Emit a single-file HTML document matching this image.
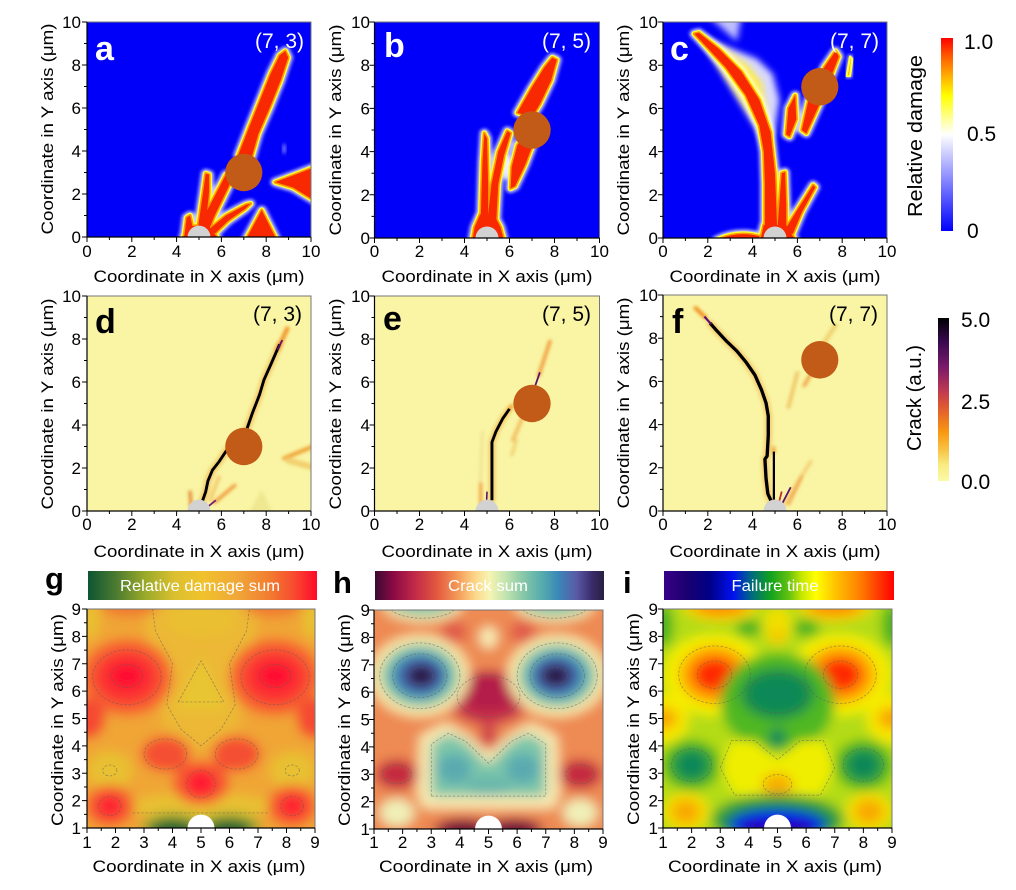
<!DOCTYPE html>
<html><head><meta charset="utf-8"><style>
html,body{margin:0;padding:0;background:#fff}
svg{display:block}
.t{font-family:"Liberation Sans",Arial,sans-serif;font-size:17px;fill:#000}
.m{text-anchor:middle}.e{text-anchor:end}
.h0{fill:#fff;stroke:#fff;stroke-width:.42;stroke-linejoin:round;opacity:.8}
.h1{fill:#ffff30;stroke:#ffff30;stroke-width:.26;stroke-linejoin:round}
.h2{fill:#ff9a00;stroke:#ff9a00;stroke-width:.14;stroke-linejoin:round}
.h3{fill:#f82800;stroke:none}
.ct{fill:none;stroke:#5a5a5a;stroke-width:.025;stroke-dasharray:.09 .06;opacity:.6}
</style></head><body>
<svg width="1016" height="890" viewBox="0 0 1016 890" xmlns="http://www.w3.org/2000/svg">
<defs>
<clipPath id="c10"><rect x="0" y="0" width="10" height="10"/></clipPath>
<clipPath id="c19"><rect x="1" y="1" width="8" height="8"/></clipPath>
<filter id="bl1" x="-20%" y="-20%" width="140%" height="140%"><feGaussianBlur stdDeviation="0.08"/></filter>
<filter id="bl3" x="-20%" y="-20%" width="140%" height="140%"><feGaussianBlur stdDeviation="0.15"/></filter>
<filter id="bl2" x="-5%" y="-5%" width="110%" height="110%"><feGaussianBlur stdDeviation="0.2"/></filter>
<linearGradient id="cbA" x1="0" y1="1" x2="0" y2="0">
<stop offset="0" stop-color="#0000ff"/><stop offset="0.5" stop-color="#ffffff"/><stop offset="0.6" stop-color="#ffff80"/><stop offset="0.7" stop-color="#ffff00"/><stop offset="0.8" stop-color="#ffb000"/><stop offset="0.9" stop-color="#ff6000"/><stop offset="1" stop-color="#ff0000"/></linearGradient>
<linearGradient id="cbB" x1="0" y1="1" x2="0" y2="0">
<stop offset="0" stop-color="#fafaa8"/><stop offset="0.1" stop-color="#f8eb80"/><stop offset="0.2" stop-color="#f8c040"/><stop offset="0.3" stop-color="#f89810"/><stop offset="0.45" stop-color="#e05a30"/><stop offset="0.55" stop-color="#c03a50"/><stop offset="0.7" stop-color="#7a1a6a"/><stop offset="0.85" stop-color="#3a0a50"/><stop offset="1" stop-color="#000004"/></linearGradient>
<linearGradient id="gg"><stop offset="0" stop-color="#0d5532"/><stop offset="0.12" stop-color="#4a7a30"/><stop offset="0.25" stop-color="#9aaa2a"/><stop offset="0.38" stop-color="#dcc030"/><stop offset="0.5" stop-color="#f0c22c"/><stop offset="0.65" stop-color="#f0a838"/><stop offset="0.8" stop-color="#f27a30"/><stop offset="0.9" stop-color="#f84a30"/><stop offset="1" stop-color="#ff0a2a"/></linearGradient>
<linearGradient id="gh"><stop offset="0" stop-color="#3a0a30"/><stop offset="0.08" stop-color="#8a0a44"/><stop offset="0.17" stop-color="#c02848"/><stop offset="0.27" stop-color="#e2583e"/><stop offset="0.36" stop-color="#f49a58"/><stop offset="0.44" stop-color="#fcd88a"/><stop offset="0.5" stop-color="#f6f4b2"/><stop offset="0.57" stop-color="#c4e4b0"/><stop offset="0.64" stop-color="#8ccaa8"/><stop offset="0.72" stop-color="#5ab0ac"/><stop offset="0.8" stop-color="#3a88b8"/><stop offset="0.88" stop-color="#5a5aa6"/><stop offset="0.95" stop-color="#3a2a68"/><stop offset="1" stop-color="#282040"/></linearGradient>
<linearGradient id="gi"><stop offset="0" stop-color="#3a0088"/><stop offset="0.1" stop-color="#1a0070"/><stop offset="0.2" stop-color="#000088"/><stop offset="0.3" stop-color="#0010f0"/><stop offset="0.38" stop-color="#006a80"/><stop offset="0.46" stop-color="#10a020"/><stop offset="0.54" stop-color="#60c010"/><stop offset="0.6" stop-color="#c8e800"/><stop offset="0.66" stop-color="#ffff00"/><stop offset="0.75" stop-color="#ffc000"/><stop offset="0.85" stop-color="#ff8000"/><stop offset="1" stop-color="#ff0000"/></linearGradient>

<g id="ca">
<path d="M6.75,3.8 L7.2,5 L7.7,6.3 L8.2,7.6 L8.6,8.45 L8.85,8.65 L8.98,8.35 L8.65,7.3 L8.15,6.0 L7.65,4.8 L7.35,3.7 Z"/>
<path d="M4.8,0.2 L5.5,1.5 L6.2,2.9 L6.45,2.95 L6.35,2.4 L5.7,1.0 L5.35,0.1 Z"/>
<path d="M4.95,0.4 L5.2,2.2 L5.3,2.95 L5.45,2.9 L5.45,2.1 L5.3,0.6 Z"/>
<path d="M5.5,0.4 L6.2,1.0 L7.1,1.5 L7.3,1.55 L7.05,1.3 L6.3,0.75 L5.7,0.15 Z"/>
<path d="M4.35,0.1 L4.45,0.9 L4.6,1.0 L4.75,0.3 Z"/>
<path d="M4.3,0 L4.6,0.5 L5.4,0.55 L5.8,0 Z"/>
<path d="M7.05,-0.2 L7.8,1.25 L8.5,-0.2 Z"/>
<path d="M8.4,2.55 L9.3,2.9 L10.3,3.3 L10.3,1.6 L9.2,2.3 Z"/>
</g>
<g id="cb">
<path d="M6.35,5.8 L6.95,6.9 L7.55,7.9 L7.9,8.35 L8.1,8.25 L7.85,7.3 L7.35,6.2 L7.0,5.6 Z"/>
<path d="M6.05,2.3 L6.1,3.3 L6.35,4.3 L6.8,4.9 L7.1,4.5 L6.7,3.4 L6.25,2.4 Z"/>
<path d="M5.0,0.6 L5.2,2.5 L5.5,4.0 L5.9,4.95 L6.05,4.85 L5.75,3.8 L5.5,2.5 L5.4,0.6 Z"/>
<path d="M4.72,0.8 L4.8,3.5 L4.88,4.85 L5.0,4.6 L5.05,2.5 L5.05,0.8 Z"/>
<path d="M4.35,-0.1 L4.45,0.5 L4.7,1.1 L5.3,1.1 L5.6,0.5 L5.75,-0.1 Z"/>
</g>
<g id="cc">
<path d="M4.55,0.3 L4.55,2.5 L4.5,4.0 L4.3,5.2 L3.7,6.6 L2.8,7.9 L1.9,8.9 L1.4,9.45 L1.6,9.5 L2.5,8.75 L3.5,7.7 L4.3,6.4 L4.8,4.9 L5.0,3.0 L5.1,0.3 Z"/>
<path d="M5.1,0.3 L5.3,3.0 L5.45,3.05 L5.5,1.5 L5.5,0.3 Z"/>
<path d="M5.4,0.3 L6.0,1.3 L6.7,2.45 L6.8,2.35 L6.2,1.2 L5.7,0.2 Z"/>
<path d="M5.5,0.2 L5.9,1.0 L6.15,1.5 L6.2,1.2 L5.8,0.2 Z"/>
<path d="M4.35,-0.1 L4.5,0.6 L5.5,0.6 L5.9,-0.1 Z"/>
<path d="M2.4,-0.1 Q3.3,0.35 4.3,0.08 L4.3,-0.1 Z"/>
<path d="M5.5,4.8 L5.6,6.0 L5.9,6.6 L5.95,5.5 L5.65,4.7 Z"/>
<path d="M6.2,5.0 L6.5,6.4 L7.2,7.9 L7.7,8.65 L7.85,8.4 L7.4,7.2 L6.9,6.0 L6.4,4.85 Z"/>
</g>
</defs>
<rect width="1016" height="890" fill="#fff"/>

<!-- ===== Panel a ===== -->
<g transform="translate(87,237) scale(22.4,-21.5)"><g clip-path="url(#c10)">
<rect x="-1" y="-1" width="12" height="12" fill="#0000fa"/>
<ellipse cx="8.8" cy="4.1" rx="0.08" ry="0.25" fill="#8080ff" filter="url(#bl1)"/>
<use href="#ca" class="h0" filter="url(#bl1)"/>
<use href="#ca" class="h1"/>
<use href="#ca" class="h2"/>
<use href="#ca" class="h3"/>
<ellipse cx="7" cy="3" rx="0.83" ry="0.87" fill="#c25b17"/>
<ellipse cx="5" cy="0" rx="0.51" ry="0.53" fill="#d2d2d2"/>
</g></g>
<!-- ===== Panel b ===== -->
<g transform="translate(374.5,238) scale(22.5,-21.6)"><g clip-path="url(#c10)">
<rect x="-1" y="-1" width="12" height="12" fill="#0000fa"/>
<ellipse cx="5.85" cy="3.3" rx="0.25" ry="0.6" fill="#fff" opacity=".8" filter="url(#bl1)"/>
<use href="#cb" class="h0" filter="url(#bl1)"/>
<use href="#cb" class="h1"/>
<use href="#cb" class="h2"/>
<use href="#cb" class="h3"/>
<ellipse cx="7" cy="5" rx="0.83" ry="0.87" fill="#c25b17"/>
<ellipse cx="5" cy="0" rx="0.51" ry="0.53" fill="#d2d2d2"/>
</g></g>
<!-- ===== Panel c ===== -->
<g transform="translate(663,238) scale(22.4,-21.6)"><g clip-path="url(#c10)">
<rect x="-1" y="-1" width="12" height="12" fill="#0000fa"/>
<path d="M2.0,10.3 L3.5,10.3 L3.3,9.1 Z" fill="#fff" opacity=".75" filter="url(#bl3)"/>
<path d="M1.6,9.4 L3.0,8.8 L4.2,8.3 L4.9,7.6 L5.2,6.4 L5.0,5.0 L4.6,4.3 Z" fill="#fff" opacity=".85" filter="url(#bl3)"/>
<path d="M1.6,9.4 L2.8,8.7 L3.8,8.0 L4.4,7.2 L4.6,6.0 L4.6,4.6 Z" fill="#ffee40" filter="url(#bl3)"/>
<use href="#cc" class="h0" filter="url(#bl1)"/>
<use href="#cc" class="h1"/>
<use href="#cc" class="h2"/>
<use href="#cc" class="h3"/>
<path d="M8.2,7.5 L8.35,8.4 L8.45,8.3 L8.35,7.5 Z" fill="#fff" stroke="#fff" stroke-width=".2" stroke-linejoin="round" opacity=".7" filter="url(#bl1)"/>
<path d="M8.2,7.5 L8.35,8.4 L8.45,8.3 L8.35,7.5 Z" fill="#ffa000" stroke="#ffff40" stroke-width=".1" stroke-linejoin="round"/>
<ellipse cx="7" cy="7" rx="0.83" ry="0.87" fill="#c25b17"/>
<ellipse cx="5" cy="0" rx="0.51" ry="0.53" fill="#d2d2d2"/>
</g></g>

<!-- ===== Panel d ===== -->
<g transform="translate(87,511) scale(22.4,-21.5)"><g clip-path="url(#c10)">
<rect x="-1" y="-1" width="12" height="12" fill="#f9f5a4"/>
<g filter="url(#bl1)" fill="none" stroke-linecap="round">
<path d="M7.2,-0.1 L7.8,1.0 L8.3,-0.1 Z" fill="#efe890" stroke="none"/>
<path d="M8.8,2.45 L10.2,3.05" stroke="#f0a030" stroke-width=".18"/>
<path d="M9.0,2.35 L10.2,2.0" stroke="#f2d070" stroke-width=".3"/>
<polyline points="5.1,0.3 5.3,0.9 5.4,1.4 5.6,1.9 5.9,2.3 6.25,2.85" stroke="#f0a030" stroke-width=".32" opacity=".5"/>
<polyline points="7.15,3.85 7.4,4.6 7.7,5.4 7.9,6.1 8.2,6.8 8.45,7.4 8.6,7.75" stroke="#f0a030" stroke-width=".32" opacity=".5"/>
<path d="M8.5,7.5 L8.75,8.05 L8.95,8.5" stroke="#f08010" stroke-width=".16"/>
<path d="M4.65,0.2 L4.6,0.9" stroke="#e07020" stroke-width=".12"/>
<path d="M5.7,0.4 L6.6,1.2" stroke="#f09030" stroke-width=".14"/>
<path d="M5.5,0.5 L5.9,1.6" stroke="#f0b050" stroke-width=".1"/>
</g>
<path d="M5.4,0.2 L5.75,0.5" stroke="#702070" stroke-width=".08"/>
<polyline points="5.1,0.3 5.3,0.9 5.4,1.4 5.6,1.9 5.9,2.3 6.25,2.85" fill="none" stroke="#000" stroke-width=".13" stroke-linejoin="round"/>
<polyline points="7.15,3.85 7.4,4.6 7.7,5.4 7.9,6.1 8.2,6.8 8.45,7.4 8.6,7.75" fill="none" stroke="#000" stroke-width=".13" stroke-linejoin="round"/>
<path d="M8.5,7.5 L8.72,7.95" stroke="#5a1070" stroke-width=".08"/>
<ellipse cx="7" cy="3" rx="0.83" ry="0.87" fill="#c25b17"/>
<ellipse cx="5" cy="0" rx="0.51" ry="0.53" fill="#d2d2d2"/>
</g></g>
<!-- ===== Panel e ===== -->
<g transform="translate(374.5,511) scale(22.5,-21.5)"><g clip-path="url(#c10)">
<rect x="-1" y="-1" width="12" height="12" fill="#f9f5a4"/>
<g filter="url(#bl1)" fill="none" stroke-linecap="round">
<path d="M4.7,1.3 L4.8,3.7" stroke="#f0e090" stroke-width=".12"/>
<path d="M6.15,3.3 L6.6,4.4" stroke="#f0a040" stroke-width=".16" opacity=".7"/>
<path d="M6.1,2.6 L6.3,3.3" stroke="#f0d070" stroke-width=".14"/>
<polyline points="5.22,0.5 5.22,3.2 5.4,3.7 5.7,4.3 6.0,4.75" stroke="#f0a030" stroke-width=".3" opacity=".5"/>
<path d="M6.0,4.75 L6.12,4.92" stroke="#f09020" stroke-width=".12"/>
<path d="M7.3,6.3 L7.8,7.9" stroke="#f09030" stroke-width=".14"/>
<path d="M4.72,0.3 L4.72,1.3" stroke="#f08020" stroke-width=".1"/>
</g>
<path d="M7.15,5.85 L7.35,6.45" stroke="#5a1070" stroke-width=".08"/>
<path d="M4.98,0.4 L5.0,0.9" stroke="#5a1070" stroke-width=".07"/>
<polyline points="5.22,0.5 5.22,3.2 5.4,3.7 5.7,4.3 6.0,4.75" fill="none" stroke="#000" stroke-width=".13" stroke-linejoin="round"/>
<ellipse cx="7" cy="5" rx="0.83" ry="0.87" fill="#c25b17"/>
<ellipse cx="5" cy="0" rx="0.51" ry="0.53" fill="#d2d2d2"/>
</g></g>
<!-- ===== Panel f ===== -->
<g transform="translate(663,511) scale(22.4,-21.6)"><g clip-path="url(#c10)">
<rect x="-1" y="-1" width="12" height="12" fill="#f9f5a4"/>
<g filter="url(#bl1)" fill="none" stroke-linecap="round">
<path d="M5.6,4.8 L6.0,6.4" stroke="#f0c060" stroke-width=".15"/>
<path d="M6.3,5.8 L6.9,6.9" stroke="#f0a040" stroke-width=".15"/>
<path d="M7.2,7.8 L7.7,8.6" stroke="#f0d070" stroke-width=".2"/>
<path d="M5.4,0.3 L6.6,2.3" stroke="#f0b050" stroke-width=".15" opacity=".6"/>
<path d="M5.6,0.3 L6.2,1.6" stroke="#f09030" stroke-width=".1"/>
<polyline points="4.9,0.3 4.68,0.8 4.6,1.5 4.55,2.4 4.65,2.55 4.7,3.5 4.7,4.4 4.6,5.0 4.4,5.6 4.1,6.3 3.7,6.9 3.3,7.4 2.8,7.9 2.4,8.35 2.1,8.7" stroke="#f0a030" stroke-width=".34" opacity=".45"/>
<path d="M1.9,8.95 L1.45,9.4" stroke="#f08010" stroke-width=".16"/>
<path d="M4.95,2.7 L4.95,2.95" stroke="#f08010" stroke-width=".1"/>
</g>
<path d="M5.3,0.3 L5.7,1.1" stroke="#5a1070" stroke-width=".08"/>
<path d="M5.15,0.3 L5.3,0.9" stroke="#c03030" stroke-width=".08"/>
<polyline points="4.9,0.3 4.68,0.8 4.6,1.5 4.55,2.4 4.65,2.55 4.7,3.5 4.7,4.4 4.6,5.0 4.4,5.6 4.1,6.3 3.7,6.9 3.3,7.4 2.8,7.9 2.4,8.35 2.1,8.7" fill="none" stroke="#000" stroke-width=".15" stroke-linejoin="round"/>
<path d="M2.15,8.65 L1.85,9.0" stroke="#5a1070" stroke-width=".1"/>
<path d="M4.95,0.5 L4.95,2.75" stroke="#000" stroke-width=".1"/>
<ellipse cx="7" cy="7" rx="0.83" ry="0.87" fill="#c25b17"/>
<ellipse cx="5" cy="0" rx="0.51" ry="0.53" fill="#d2d2d2"/>
</g></g>

<!-- ===== Panel g ===== -->
<g transform="translate(87,828) scale(28.5,-27.4) translate(-1,-1)"><g clip-path="url(#c19)">
<g filter="url(#bl2)">
<rect x="0" y="0" width="10" height="10" fill="#f0a535"/>
<path d="M3.6,4.7 L4.4,4.3 L5,3.8 L5.6,4.3 L6.4,4.7 L6.4,6.2 L6.9,8.0 L7.2,9.8 L2.8,9.8 L3.1,8.0 L3.6,6.2 Z" fill="#ecb835"/>
<path d="M4.1,5.3 L5,7.3 L5.9,5.3 Z" fill="#e8c630"/>
<ellipse cx="5" cy="8.6" rx="1.2" ry="0.6" fill="#eac032"/>
<ellipse cx="1.8" cy="3.1" rx="0.8" ry="0.7" fill="#e8c030"/>
<ellipse cx="8.2" cy="3.1" rx="0.8" ry="0.7" fill="#e8c030"/>
<ellipse cx="5" cy="1.8" rx="2.6" ry="0.5" fill="#e8c030"/>
<ellipse cx="1.1" cy="8.6" rx="0.35" ry="0.7" fill="#e8c030"/>
<ellipse cx="8.9" cy="8.6" rx="0.35" ry="0.7" fill="#e8c030"/>
<ellipse cx="2.4" cy="6.5" rx="1.6" ry="1.4" fill="#f66030"/>
<ellipse cx="7.6" cy="6.5" rx="1.6" ry="1.4" fill="#f66030"/>
<ellipse cx="2.4" cy="6.5" rx="1.1" ry="0.95" fill="#fb3030"/>
<ellipse cx="7.6" cy="6.5" rx="1.1" ry="0.95" fill="#fb3030"/>
<ellipse cx="2.4" cy="6.55" rx="0.6" ry="0.45" fill="#ff0a30"/>
<ellipse cx="7.6" cy="6.55" rx="0.6" ry="0.45" fill="#ff0a30"/>
<ellipse cx="5" cy="2.65" rx="1.0" ry="0.8" fill="#f55a30"/>
<ellipse cx="5" cy="2.65" rx="0.55" ry="0.5" fill="#ff1a30"/>
<ellipse cx="3.75" cy="3.7" rx="0.85" ry="0.65" fill="#f45030"/>
<ellipse cx="6.25" cy="3.7" rx="0.85" ry="0.65" fill="#f45030"/>
<ellipse cx="1.8" cy="1.8" rx="0.85" ry="0.75" fill="#f55a30"/>
<ellipse cx="8.2" cy="1.8" rx="0.85" ry="0.75" fill="#f55a30"/>
<ellipse cx="1.8" cy="1.8" rx="0.45" ry="0.42" fill="#ff2030"/>
<ellipse cx="8.2" cy="1.8" rx="0.45" ry="0.42" fill="#ff2030"/>
<ellipse cx="1.0" cy="5.0" rx="0.65" ry="0.75" fill="#f54a30"/>
<ellipse cx="9.0" cy="5.0" rx="0.65" ry="0.75" fill="#f54a30"/>
<ellipse cx="2.5" cy="9.1" rx="1.0" ry="0.4" fill="#f07a30"/>
<ellipse cx="7.5" cy="9.1" rx="1.0" ry="0.4" fill="#f07a30"/>
<ellipse cx="4.0" cy="1.0" rx="1.1" ry="0.55" fill="#9aa830"/>
<ellipse cx="6.0" cy="1.0" rx="1.1" ry="0.55" fill="#9aa830"/>
<ellipse cx="4.0" cy="0.95" rx="0.8" ry="0.35" fill="#1f6030"/>
<ellipse cx="6.0" cy="0.95" rx="0.8" ry="0.35" fill="#1f6030"/>
</g>
<ellipse class="ct" cx="2.4" cy="6.5" rx="1.2" ry="1.0"/>
<ellipse class="ct" cx="7.6" cy="6.5" rx="1.2" ry="1.0"/>
<ellipse class="ct" cx="2.4" cy="6.55" rx="0.55" ry="0.42"/>
<ellipse class="ct" cx="7.6" cy="6.55" rx="0.55" ry="0.42"/>
<path class="ct" d="M4.2,5.6 L5,7.1 L5.8,5.6 Z"/>
<path class="ct" d="M3.3,9 L3.4,8.2 L4,7 L3.8,5.5 L4.3,4.6 L5,4.0 L5.7,4.6 L6.2,5.5 L6,7 L6.6,8.2 L6.7,9"/>
<ellipse class="ct" cx="5" cy="2.6" rx="0.5" ry="0.5"/>
<ellipse class="ct" cx="3.75" cy="3.7" rx="0.75" ry="0.55"/>
<ellipse class="ct" cx="6.25" cy="3.7" rx="0.75" ry="0.55"/>
<ellipse class="ct" cx="1.8" cy="3.1" rx="0.25" ry="0.2"/>
<ellipse class="ct" cx="8.2" cy="3.1" rx="0.25" ry="0.2"/>
<ellipse class="ct" cx="1.8" cy="1.8" rx="0.4" ry="0.35"/>
<ellipse class="ct" cx="8.2" cy="1.8" rx="0.4" ry="0.35"/>
<path class="ct" d="M2.6,1.55 L7.4,1.55"/>
<ellipse cx="5" cy="1" rx="0.47" ry="0.49" fill="#fff"/>
</g></g>

<!-- ===== Panel h ===== -->
<g transform="translate(374,829) scale(28.625,-27.375) translate(-1,-1)"><g clip-path="url(#c19)">
<g filter="url(#bl2)">
<rect x="0" y="0" width="10" height="10" fill="#ee8a52"/>
<ellipse cx="5" cy="5.8" rx="1.4" ry="1.0" fill="#c83048"/>
<ellipse cx="5" cy="6.0" rx="1.1" ry="0.7" fill="#b41c48"/>
<ellipse cx="5" cy="4.4" rx="0.3" ry="0.45" fill="#d04048"/>
<ellipse cx="1.8" cy="3.0" rx="0.75" ry="0.55" fill="#c42c40"/>
<ellipse cx="8.2" cy="3.0" rx="0.75" ry="0.55" fill="#c42c40"/>
<ellipse cx="3.8" cy="8.2" rx="0.45" ry="0.4" fill="#e05a48"/>
<ellipse cx="6.2" cy="8.2" rx="0.45" ry="0.4" fill="#e05a48"/>
<ellipse cx="2.6" cy="6.6" rx="1.75" ry="1.5" fill="#f8e8a8"/>
<ellipse cx="7.4" cy="6.6" rx="1.75" ry="1.5" fill="#f8e8a8"/>
<ellipse cx="2.6" cy="6.6" rx="1.35" ry="1.15" fill="#80c8aa"/>
<ellipse cx="7.4" cy="6.6" rx="1.35" ry="1.15" fill="#80c8aa"/>
<ellipse cx="2.6" cy="6.6" rx="1.0" ry="0.85" fill="#3a86b8"/>
<ellipse cx="7.4" cy="6.6" rx="1.0" ry="0.85" fill="#3a86b8"/>
<ellipse cx="2.65" cy="6.6" rx="0.7" ry="0.58" fill="#4a4a98"/>
<ellipse cx="7.35" cy="6.6" rx="0.7" ry="0.58" fill="#4a4a98"/>
<ellipse cx="2.65" cy="6.6" rx="0.45" ry="0.35" fill="#26183a"/>
<ellipse cx="7.35" cy="6.6" rx="0.45" ry="0.35" fill="#26183a"/>
<path d="M2.5,2.3 L2.7,1.75 L7.3,1.75 L7.5,2.3 L7.4,4.4 L6.5,4.9 L5.8,4.5 L5,3.8 L4.2,4.5 L3.5,4.9 L2.6,4.4 Z" fill="#f8eab0"/>
<path d="M3.0,2.2 L7.0,2.2 L7.0,4.1 L6.4,4.5 L5.8,4.2 L5,3.35 L4.2,4.2 L3.6,4.5 L3.0,4.1 Z" fill="#7cc6aa"/>
<ellipse cx="3.8" cy="3.2" rx="0.6" ry="0.55" fill="#5aaab0"/>
<ellipse cx="6.2" cy="3.2" rx="0.6" ry="0.55" fill="#5aaab0"/>
<ellipse cx="5" cy="2.6" rx="0.8" ry="0.35" fill="#6ab8ac"/>
<ellipse cx="2.7" cy="9.2" rx="1.4" ry="0.65" fill="#f4e4a8"/>
<ellipse cx="7.3" cy="9.2" rx="1.4" ry="0.65" fill="#f4e4a8"/>
<ellipse cx="2.7" cy="9.2" rx="1.1" ry="0.4" fill="#84c8a8"/>
<ellipse cx="7.3" cy="9.2" rx="1.1" ry="0.4" fill="#84c8a8"/>
<ellipse cx="5" cy="8.0" rx="0.3" ry="0.4" fill="#f8f0b8"/>
<ellipse cx="1.8" cy="1.6" rx="0.6" ry="0.5" fill="#f0f0b8"/>
<ellipse cx="8.2" cy="1.6" rx="0.6" ry="0.5" fill="#f0f0b8"/>
<ellipse cx="4.1" cy="1.0" rx="1.0" ry="0.38" fill="#901040"/>
<ellipse cx="5.9" cy="1.0" rx="1.0" ry="0.38" fill="#901040"/>
<ellipse cx="4.1" cy="0.95" rx="0.65" ry="0.22" fill="#5a0a36"/>
<ellipse cx="5.9" cy="0.95" rx="0.65" ry="0.22" fill="#5a0a36"/>
</g>
<ellipse class="ct" cx="2.6" cy="6.6" rx="1.4" ry="1.2"/>
<ellipse class="ct" cx="7.4" cy="6.6" rx="1.4" ry="1.2"/>
<ellipse class="ct" cx="2.6" cy="6.6" rx="0.95" ry="0.8"/>
<ellipse class="ct" cx="7.4" cy="6.6" rx="0.95" ry="0.8"/>
<ellipse class="ct" cx="2.65" cy="6.6" rx="0.4" ry="0.3"/>
<ellipse class="ct" cx="7.35" cy="6.6" rx="0.4" ry="0.3"/>
<path class="ct" d="M3.0,2.2 L7.0,2.2 L7.0,4.1 L6.4,4.5 L5.8,4.2 L5,3.4 L4.2,4.2 L3.6,4.5 L3.0,4.1 Z"/>
<ellipse class="ct" cx="5" cy="5.85" rx="1.1" ry="0.75"/>
<ellipse class="ct" cx="2.7" cy="9.2" rx="1.2" ry="0.5"/>
<ellipse class="ct" cx="7.3" cy="9.2" rx="1.2" ry="0.5"/>
<ellipse class="ct" cx="1.8" cy="3.0" rx="0.5" ry="0.35"/>
<ellipse class="ct" cx="8.2" cy="3.0" rx="0.5" ry="0.35"/>
<ellipse cx="5" cy="1" rx="0.47" ry="0.49" fill="#fff"/>
</g></g>

<!-- ===== Panel i ===== -->
<g transform="translate(663,828) scale(28.625,-27.375) translate(-1,-1)"><g clip-path="url(#c19)">
<g filter="url(#bl2)">
<rect x="0" y="0" width="10" height="10" fill="#b4dc18"/>
<ellipse cx="1.0" cy="5.0" rx="0.9" ry="0.9" fill="#f8e800"/>
<ellipse cx="9.0" cy="5.0" rx="0.9" ry="0.9" fill="#f8e800"/>
<ellipse cx="1.0" cy="5.0" rx="0.5" ry="0.4" fill="#f8a800"/>
<ellipse cx="9.0" cy="5.0" rx="0.5" ry="0.4" fill="#f8a800"/>
<ellipse cx="2.8" cy="6.6" rx="1.8" ry="1.5" fill="#f4ec00"/>
<ellipse cx="7.2" cy="6.6" rx="1.8" ry="1.5" fill="#f4ec00"/>
<ellipse cx="2.8" cy="6.6" rx="1.2" ry="1.05" fill="#ffa000"/>
<ellipse cx="7.2" cy="6.6" rx="1.2" ry="1.05" fill="#ffa000"/>
<ellipse cx="2.8" cy="6.6" rx="0.75" ry="0.62" fill="#ff2a00"/>
<ellipse cx="7.2" cy="6.6" rx="0.75" ry="0.62" fill="#ff2a00"/>
<ellipse cx="5" cy="5.6" rx="2.0" ry="1.8" fill="#50b820"/>
<ellipse cx="5" cy="5.9" rx="1.3" ry="0.95" fill="#12904a"/>
<ellipse cx="5" cy="5.9" rx="0.9" ry="0.6" fill="#0a8858"/>
<ellipse cx="5" cy="4.3" rx="0.3" ry="0.35" fill="#0a8858"/>
<path d="M3.0,3.2 L3.4,4.2 L4.2,4.2 L5,3.5 L5.8,4.2 L6.6,4.2 L7.0,3.2 L6.5,2.2 L3.5,2.2 Z" fill="#f0ee00"/>
<ellipse cx="5" cy="2.6" rx="0.55" ry="0.42" fill="#f8b000"/>
<ellipse cx="2" cy="3.3" rx="1.0" ry="0.9" fill="#40b020"/>
<ellipse cx="8" cy="3.3" rx="1.0" ry="0.9" fill="#40b020"/>
<ellipse cx="2" cy="3.3" rx="0.6" ry="0.55" fill="#0a8858"/>
<ellipse cx="8" cy="3.3" rx="0.6" ry="0.55" fill="#0a8858"/>
<ellipse cx="5" cy="1.3" rx="2.3" ry="0.95" fill="#30a030"/>
<ellipse cx="5" cy="1.2" rx="1.9" ry="0.65" fill="#0a7a70"/>
<ellipse cx="5" cy="1.1" rx="1.6" ry="0.52" fill="#0010f0"/>
<ellipse cx="4.3" cy="1.0" rx="0.55" ry="0.18" fill="#300090"/>
<ellipse cx="5.7" cy="1.0" rx="0.55" ry="0.18" fill="#300090"/>
<ellipse cx="1.8" cy="1.6" rx="0.8" ry="0.7" fill="#f8e000"/>
<ellipse cx="8.2" cy="1.6" rx="0.8" ry="0.7" fill="#f8e000"/>
<ellipse cx="1.8" cy="1.6" rx="0.5" ry="0.45" fill="#f8a800"/>
<ellipse cx="8.2" cy="1.6" rx="0.5" ry="0.45" fill="#f8a800"/>
<ellipse cx="3" cy="9.1" rx="1.3" ry="0.55" fill="#f8d000"/>
<ellipse cx="7" cy="9.1" rx="1.3" ry="0.55" fill="#f8d000"/>
<ellipse cx="3" cy="9.1" rx="0.9" ry="0.35" fill="#ff9000"/>
<ellipse cx="7" cy="9.1" rx="0.9" ry="0.35" fill="#ff9000"/>
<ellipse cx="5" cy="8.4" rx="0.5" ry="0.7" fill="#f0e000"/>
<ellipse cx="5" cy="8.0" rx="0.2" ry="0.3" fill="#f8c000"/>
<ellipse cx="4" cy="8.3" rx="0.45" ry="0.3" fill="#40b020"/>
<ellipse cx="6" cy="8.3" rx="0.45" ry="0.3" fill="#40b020"/>
<ellipse cx="1" cy="8.4" rx="0.35" ry="0.8" fill="#40b020"/>
<ellipse cx="9" cy="8.4" rx="0.35" ry="0.8" fill="#40b020"/>
</g>
<ellipse class="ct" cx="2.8" cy="6.6" rx="1.25" ry="1.05"/>
<ellipse class="ct" cx="7.2" cy="6.6" rx="1.25" ry="1.05"/>
<ellipse class="ct" cx="2.8" cy="6.6" rx="0.6" ry="0.5"/>
<ellipse class="ct" cx="7.2" cy="6.6" rx="0.6" ry="0.5"/>
<ellipse class="ct" cx="5" cy="5.9" rx="1.0" ry="0.7"/>
<ellipse class="ct" cx="2" cy="3.3" rx="0.7" ry="0.6"/>
<ellipse class="ct" cx="8" cy="3.3" rx="0.7" ry="0.6"/>
<ellipse class="ct" cx="5" cy="2.6" rx="0.5" ry="0.35"/>
<path class="ct" d="M3.0,3.2 L3.4,4.2 L4.2,4.2 L5,3.5 L5.8,4.2 L6.6,4.2 L7.0,3.2 L6.5,2.2 L3.5,2.2 Z"/>
<ellipse cx="5" cy="1" rx="0.47" ry="0.49" fill="#fff"/>
</g></g>

<!-- ===== Frames and axes ===== -->
<g fill="none" stroke="#777" stroke-width="1">
<rect x="87" y="22" width="224" height="215"/>
<rect x="374.5" y="22" width="225" height="216"/>
<rect x="663" y="22" width="224" height="216"/>
<rect x="87" y="296" width="224" height="215"/>
<rect x="374.5" y="296" width="225" height="215"/>
<rect x="663" y="295" width="224" height="216"/>
<rect x="87" y="609" width="228" height="219"/>
<rect x="374" y="610" width="229" height="219"/>
<rect x="663" y="609" width="229" height="219"/>
</g>
<g stroke="#000" stroke-width="1.2" fill="none">
<path d="M87,22 V237 H311"/>
<path d="M374.5,22 V238 H599.5"/>
<path d="M663,22 V238 H887"/>
<path d="M87,296 V511 H311"/>
<path d="M374.5,296 V511 H599.5"/>
<path d="M663,295 V511 H887"/>
<path d="M87,609 V828 H315"/>
<path d="M374,610 V829 H603"/>
<path d="M663,609 V828 H892"/>
</g>
<!-- ticks -->
<g stroke="#000" fill="none">
<line x1="86.5" y1="239.5" x2="312" y2="239.5" stroke-width="5" stroke-dasharray="1 43.8"/>
<line x1="108.9" y1="238.5" x2="312" y2="238.5" stroke-width="3" stroke-dasharray="1 43.8"/>
<line x1="84.5" y1="21.5" x2="84.5" y2="238" stroke-width="5" stroke-dasharray="1 42"/>
<line x1="85.5" y1="43" x2="85.5" y2="238" stroke-width="3" stroke-dasharray="1 42"/>

<line x1="374" y1="240.5" x2="601" y2="240.5" stroke-width="5" stroke-dasharray="1 44"/>
<line x1="396.5" y1="239.5" x2="601" y2="239.5" stroke-width="3" stroke-dasharray="1 44"/>
<line x1="372" y1="21.5" x2="372" y2="239" stroke-width="5" stroke-dasharray="1 42.2"/>
<line x1="373" y1="43.1" x2="373" y2="239" stroke-width="3" stroke-dasharray="1 42.2"/>

<line x1="662.5" y1="240.5" x2="888" y2="240.5" stroke-width="5" stroke-dasharray="1 43.8"/>
<line x1="684.9" y1="239.5" x2="888" y2="239.5" stroke-width="3" stroke-dasharray="1 43.8"/>
<line x1="660.5" y1="21.5" x2="660.5" y2="239" stroke-width="5" stroke-dasharray="1 42.2"/>
<line x1="661.5" y1="43.1" x2="661.5" y2="239" stroke-width="3" stroke-dasharray="1 42.2"/>

<line x1="86.5" y1="513.5" x2="312" y2="513.5" stroke-width="5" stroke-dasharray="1 43.8"/>
<line x1="108.9" y1="512.5" x2="312" y2="512.5" stroke-width="3" stroke-dasharray="1 43.8"/>
<line x1="84.5" y1="295.5" x2="84.5" y2="512" stroke-width="5" stroke-dasharray="1 42"/>
<line x1="85.5" y1="317" x2="85.5" y2="512" stroke-width="3" stroke-dasharray="1 42"/>

<line x1="374" y1="513.5" x2="601" y2="513.5" stroke-width="5" stroke-dasharray="1 44"/>
<line x1="396.5" y1="512.5" x2="601" y2="512.5" stroke-width="3" stroke-dasharray="1 44"/>
<line x1="372" y1="295.5" x2="372" y2="512" stroke-width="5" stroke-dasharray="1 42"/>
<line x1="373" y1="317" x2="373" y2="512" stroke-width="3" stroke-dasharray="1 42"/>

<line x1="662.5" y1="513.5" x2="888" y2="513.5" stroke-width="5" stroke-dasharray="1 43.8"/>
<line x1="684.9" y1="512.5" x2="888" y2="512.5" stroke-width="3" stroke-dasharray="1 43.8"/>
<line x1="660.5" y1="294.5" x2="660.5" y2="512" stroke-width="5" stroke-dasharray="1 42.2"/>
<line x1="661.5" y1="316.1" x2="661.5" y2="512" stroke-width="3" stroke-dasharray="1 42.2"/>

<line x1="86.5" y1="830.5" x2="316" y2="830.5" stroke-width="5" stroke-dasharray="1 27.5"/>
<line x1="100.75" y1="829.5" x2="316" y2="829.5" stroke-width="3" stroke-dasharray="1 27.5"/>
<line x1="84.5" y1="608.5" x2="84.5" y2="829" stroke-width="5" stroke-dasharray="1 26.375"/>
<line x1="85.5" y1="622.2" x2="85.5" y2="829" stroke-width="3" stroke-dasharray="1 26.375"/>

<line x1="373.5" y1="831.5" x2="604" y2="831.5" stroke-width="5" stroke-dasharray="1 27.625"/>
<line x1="387.8" y1="830.5" x2="604" y2="830.5" stroke-width="3" stroke-dasharray="1 27.625"/>
<line x1="371.5" y1="609.5" x2="371.5" y2="830" stroke-width="5" stroke-dasharray="1 26.375"/>
<line x1="372.5" y1="623.2" x2="372.5" y2="830" stroke-width="3" stroke-dasharray="1 26.375"/>

<line x1="662.5" y1="830.5" x2="893" y2="830.5" stroke-width="5" stroke-dasharray="1 27.625"/>
<line x1="676.8" y1="829.5" x2="893" y2="829.5" stroke-width="3" stroke-dasharray="1 27.625"/>
<line x1="660.5" y1="608.5" x2="660.5" y2="829" stroke-width="5" stroke-dasharray="1 26.375"/>
<line x1="661.5" y1="622.2" x2="661.5" y2="829" stroke-width="3" stroke-dasharray="1 26.375"/>
</g>

<!-- tick labels -->
<g class="t m">
<text x="87" y="257">0</text><text x="131.8" y="257">2</text><text x="176.6" y="257">4</text><text x="221.4" y="257">6</text><text x="266.2" y="257">8</text><text x="311" y="257">10</text>
<text x="374.5" y="257">0</text><text x="419.5" y="257">2</text><text x="464.5" y="257">4</text><text x="509.5" y="257">6</text><text x="554.5" y="257">8</text><text x="599.5" y="257">10</text>
<text x="663" y="257">0</text><text x="707.8" y="257">2</text><text x="752.6" y="257">4</text><text x="797.4" y="257">6</text><text x="842.2" y="257">8</text><text x="887" y="257">10</text>
<text x="87" y="530">0</text><text x="131.8" y="530">2</text><text x="176.6" y="530">4</text><text x="221.4" y="530">6</text><text x="266.2" y="530">8</text><text x="311" y="530">10</text>
<text x="374.5" y="530">0</text><text x="419.5" y="530">2</text><text x="464.5" y="530">4</text><text x="509.5" y="530">6</text><text x="554.5" y="530">8</text><text x="599.5" y="530">10</text>
<text x="663" y="530">0</text><text x="707.8" y="530">2</text><text x="752.6" y="530">4</text><text x="797.4" y="530">6</text><text x="842.2" y="530">8</text><text x="887" y="530">10</text>
<text x="87" y="848">1</text><text x="115.5" y="848">2</text><text x="144" y="848">3</text><text x="172.5" y="848">4</text><text x="201" y="848">5</text><text x="229.5" y="848">6</text><text x="258" y="848">7</text><text x="286.5" y="848">8</text><text x="315" y="848">9</text>
<text x="374" y="848">1</text><text x="402.6" y="848">2</text><text x="431.3" y="848">3</text><text x="459.9" y="848">4</text><text x="488.5" y="848">5</text><text x="517.1" y="848">6</text><text x="545.8" y="848">7</text><text x="574.4" y="848">8</text><text x="603" y="848">9</text>
<text x="663" y="848">1</text><text x="691.6" y="848">2</text><text x="720.3" y="848">3</text><text x="748.9" y="848">4</text><text x="777.5" y="848">5</text><text x="806.1" y="848">6</text><text x="834.8" y="848">7</text><text x="863.4" y="848">8</text><text x="892" y="848">9</text>
</g>
<g class="t e">
<text x="81" y="243">0</text><text x="81" y="200">2</text><text x="81" y="157">4</text><text x="81" y="114">6</text><text x="81" y="71">8</text><text x="81" y="28">10</text>
<text x="370" y="244">0</text><text x="370" y="200.8">2</text><text x="370" y="157.6">4</text><text x="370" y="114.4">6</text><text x="370" y="71.2">8</text><text x="370" y="28">10</text>
<text x="658" y="244">0</text><text x="658" y="200.8">2</text><text x="658" y="157.6">4</text><text x="658" y="114.4">6</text><text x="658" y="71.2">8</text><text x="658" y="28">10</text>
<text x="81" y="517">0</text><text x="81" y="474">2</text><text x="81" y="431">4</text><text x="81" y="388">6</text><text x="81" y="345">8</text><text x="81" y="302">10</text>
<text x="370" y="517">0</text><text x="370" y="474">2</text><text x="370" y="431">4</text><text x="370" y="388">6</text><text x="370" y="345">8</text><text x="370" y="302">10</text>
<text x="658" y="517">0</text><text x="658" y="473.8">2</text><text x="658" y="430.6">4</text><text x="658" y="387.4">6</text><text x="658" y="344.2">8</text><text x="658" y="301">10</text>
<text x="81" y="834">1</text><text x="81" y="806.6">2</text><text x="81" y="779.3">3</text><text x="81" y="751.9">4</text><text x="81" y="724.5">5</text><text x="81" y="697.1">6</text><text x="81" y="669.8">7</text><text x="81" y="642.4">8</text><text x="81" y="615">9</text>
<text x="370" y="835">1</text><text x="370" y="807.6">2</text><text x="370" y="780.3">3</text><text x="370" y="752.9">4</text><text x="370" y="725.5">5</text><text x="370" y="698.1">6</text><text x="370" y="670.8">7</text><text x="370" y="643.4">8</text><text x="370" y="616">9</text>
<text x="658" y="834">1</text><text x="658" y="806.6">2</text><text x="658" y="779.3">3</text><text x="658" y="751.9">4</text><text x="658" y="724.5">5</text><text x="658" y="697.1">6</text><text x="658" y="669.8">7</text><text x="658" y="642.4">8</text><text x="658" y="615">9</text>
</g>

<!-- axis titles -->
<g class="t m">
<text x="199" y="282" textLength="211" lengthAdjust="spacingAndGlyphs">Coordinate in X axis (μm)</text>
<text x="487" y="282" textLength="211" lengthAdjust="spacingAndGlyphs">Coordinate in X axis (μm)</text>
<text x="775" y="282" textLength="211" lengthAdjust="spacingAndGlyphs">Coordinate in X axis (μm)</text>
<text x="199" y="557" textLength="211" lengthAdjust="spacingAndGlyphs">Coordinate in X axis (μm)</text>
<text x="487" y="557" textLength="211" lengthAdjust="spacingAndGlyphs">Coordinate in X axis (μm)</text>
<text x="775" y="557" textLength="211" lengthAdjust="spacingAndGlyphs">Coordinate in X axis (μm)</text>
<text x="199" y="872" textLength="213" lengthAdjust="spacingAndGlyphs">Coordinate in X axis (μm)</text>
<text x="486" y="872" textLength="214" lengthAdjust="spacingAndGlyphs">Coordinate in X axis (μm)</text>
<text x="775" y="872" textLength="214" lengthAdjust="spacingAndGlyphs">Coordinate in X axis (μm)</text>
<text transform="translate(53,129) rotate(-90)" textLength="211" lengthAdjust="spacingAndGlyphs">Coordinate in Y axis (μm)</text>
<text transform="translate(341,130) rotate(-90)" textLength="211" lengthAdjust="spacingAndGlyphs">Coordinate in Y axis (μm)</text>
<text transform="translate(629,130) rotate(-90)" textLength="211" lengthAdjust="spacingAndGlyphs">Coordinate in Y axis (μm)</text>
<text transform="translate(53,404) rotate(-90)" textLength="211" lengthAdjust="spacingAndGlyphs">Coordinate in Y axis (μm)</text>
<text transform="translate(341,404) rotate(-90)" textLength="211" lengthAdjust="spacingAndGlyphs">Coordinate in Y axis (μm)</text>
<text transform="translate(629,403) rotate(-90)" textLength="211" lengthAdjust="spacingAndGlyphs">Coordinate in Y axis (μm)</text>
<text transform="translate(63,720) rotate(-90)" textLength="212" lengthAdjust="spacingAndGlyphs">Coordinate in Y axis (μm)</text>
<text transform="translate(350,720) rotate(-90)" textLength="212" lengthAdjust="spacingAndGlyphs">Coordinate in Y axis (μm)</text>
<text transform="translate(639,719) rotate(-90)" textLength="212" lengthAdjust="spacingAndGlyphs">Coordinate in Y axis (μm)</text>
</g>

<!-- panel letters -->
<g font-family="Liberation Sans, Arial, sans-serif" font-weight="bold" font-size="34">
<text x="95" y="60" fill="#fff">a</text>
<text x="384" y="57" fill="#fff">b</text>
<text x="670" y="60" fill="#fff">c</text>
<text x="95" y="333" fill="#000">d</text>
<text x="383" y="330" fill="#000">e</text>
<text x="672" y="333" fill="#000">f</text>
</g>
<g font-family="Liberation Sans, Arial, sans-serif" font-weight="bold" font-size="31" fill="#000">
<text x="45" y="589">g</text>
<text x="333" y="593">h</text>
<text x="623" y="593">i</text>
</g>

<!-- coordinates labels -->
<g font-family="Liberation Sans, Arial, sans-serif" font-size="21" text-anchor="end">
<text x="304" y="48" fill="#fff">(7, 3)</text>
<text x="591" y="48" fill="#fff">(7, 5)</text>
<text x="879" y="48" fill="#fff">(7, 7)</text>
<text x="302" y="321" fill="#000">(7, 3)</text>
<text x="591" y="321" fill="#000">(7, 5)</text>
<text x="878" y="321" fill="#000">(7, 7)</text>
</g>

<!-- top colorbars -->
<rect x="941" y="38" width="12" height="193" fill="url(#cbA)"/>
<rect x="938" y="318" width="11" height="163" fill="url(#cbB)"/>
<g font-family="Liberation Sans, Arial, sans-serif" font-size="21" fill="#000">
<text x="964" y="49">1.0</text>
<text x="967" y="141">0.5</text>
<text x="967" y="238">0</text>
<text x="961" y="327">5.0</text>
<text x="961" y="409">2.5</text>
<text x="961" y="489">0.0</text>
<text transform="translate(922,136) rotate(-90)" text-anchor="middle" font-size="20" textLength="162" lengthAdjust="spacingAndGlyphs">Relative damage</text>
<text transform="translate(921,398) rotate(-90)" text-anchor="middle" font-size="20" textLength="106" lengthAdjust="spacingAndGlyphs">Crack (a.u.)</text>
</g>

<!-- bottom colorbars -->
<rect x="88" y="571" width="229" height="29" fill="url(#gg)"/>
<rect x="375" y="571" width="229" height="29" fill="url(#gh)"/>
<rect x="664" y="571" width="230" height="29" fill="url(#gi)"/>
<g font-family="Liberation Sans, Arial, sans-serif" font-size="16" fill="#fff" text-anchor="middle">
<text x="200" y="591" textLength="160" lengthAdjust="spacingAndGlyphs">Relative damage sum</text>
<text x="488" y="591" textLength="80" lengthAdjust="spacingAndGlyphs">Crack sum</text>
<text x="775" y="591" textLength="87" lengthAdjust="spacingAndGlyphs">Failure time</text>
</g>
</svg>
</body></html>
